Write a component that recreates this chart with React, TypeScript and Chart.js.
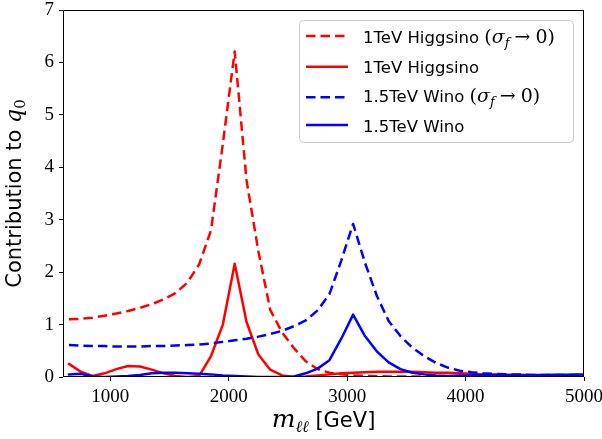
import { useEffect, useRef } from "react";
import { Chart, registerables } from "chart.js";
Chart.register(...registerables);

// m_ll bin centres (GeV)
const masses = [
  650, 750, 850, 950, 1050, 1150, 1250, 1350, 1450, 1550,
  1650, 1750, 1850, 1950, 2050, 2150, 2250, 2350, 2450, 2550,
  2650, 2750, 2850, 2950, 3050, 3150, 3250, 3350, 3450, 3550,
  3650, 3750, 3850, 3950, 4050, 4150, 4250, 4350, 4450, 4550,
  4650, 4750, 4850, 4950, 5050,
];

// 1TeV Higgsino (sigma_f -> 0)
const higgsinoLimit = [
  1.10, 1.11, 1.13, 1.17, 1.21, 1.26, 1.32, 1.39, 1.48, 1.60,
  1.80, 2.15, 2.80, 4.45, 6.21, 3.75, 2.40, 1.28, 0.85, 0.55,
  0.30, 0.15, 0.08, 0.05, 0.03, 0.02, 0.015, 0.01, 0.01, 0.01,
  0.01, 0.01, 0.01, 0.01, 0.01, 0.01, 0.01, 0.01, 0.01, 0.01,
  0.01, 0.01, 0.01, 0.01, 0.01,
];

// 1TeV Higgsino
const higgsino = [
  0.25, 0.10, 0.02, 0.07, 0.15, 0.21, 0.20, 0.14, 0.07, 0.02,
  0.00, 0.02, 0.40, 1.00, 2.16, 1.05, 0.43, 0.14, 0.03, 0.00,
  0.01, 0.03, 0.05, 0.07, 0.08, 0.09, 0.10, 0.10, 0.10, 0.10,
  0.09, 0.08, 0.08, 0.07, 0.06, 0.05, 0.05, 0.04, 0.04, 0.03,
  0.03, 0.03, 0.02, 0.02, 0.02,
];

// 1.5TeV Wino (sigma_f -> 0)
const winoLimit = [
  0.61, 0.60, 0.59, 0.59, 0.58, 0.58, 0.58, 0.59, 0.59, 0.60,
  0.61, 0.62, 0.64, 0.67, 0.70, 0.73, 0.77, 0.82, 0.88, 0.97,
  1.08, 1.27, 1.58, 2.22, 2.92, 2.18, 1.55, 1.07, 0.78, 0.56,
  0.40, 0.27, 0.18, 0.12, 0.09, 0.07, 0.06, 0.05, 0.05, 0.04,
  0.04, 0.04, 0.04, 0.04, 0.04,
];

// 1.5TeV Wino
const wino = [
  0.05, 0.06, 0.01, 0.00, 0.01, 0.02, 0.04, 0.07, 0.08, 0.08,
  0.07, 0.06, 0.05, 0.03, 0.02, 0.01, 0.00, 0.00, 0.00, 0.01,
  0.07, 0.16, 0.32, 0.73, 1.19, 0.78, 0.49, 0.28, 0.15, 0.08,
  0.05, 0.03, 0.02, 0.03, 0.03, 0.04, 0.04, 0.04, 0.04, 0.04,
  0.04, 0.045, 0.045, 0.05, 0.05,
];

const xTicks = [1000, 2000, 3000, 4000, 5000];
const yTicks = [0, 1, 2, 3, 4, 5, 6, 7];

const RED = "#ff0000";
const BLUE = "#0000ff";
const SANS = '"DejaVu Sans"';
const SERIF = '"DejaVu Serif"';
const TICKFONT = '"Liberation Serif"';

type Run = { t: string; f: string; dy?: number; gap?: number };

function runsWidth(ctx: CanvasRenderingContext2D, runs: Run[]) {
  let w = 0;
  for (const r of runs) {
    ctx.font = r.f;
    w += ctx.measureText(r.t).width + (r.gap || 0);
  }
  return w;
}
function drawRuns(ctx: CanvasRenderingContext2D, runs: Run[], x: number, y: number) {
  let cx = x;
  for (const r of runs) {
    ctx.font = r.f;
    ctx.fillText(r.t, cx, y + (r.dy || 0));
    cx += ctx.measureText(r.t).width + (r.gap || 0);
  }
}

const legendItems = [
  { color: RED, dash: true, runs: [
    { t: "1TeV Higgsino ", f: `16.5px ${SANS}` },
    { t: "(", f: `19px ${SERIF}` },
    { t: "σ", f: `italic 19px ${SERIF}` },
    { t: "f", f: `italic 13px ${SERIF}`, dy: 4, gap: 5 },
    { t: "→", f: `19px ${SERIF}`, gap: 5 },
    { t: "0)", f: `19px ${SERIF}` },
  ] },
  { color: RED, dash: false, runs: [{ t: "1TeV Higgsino", f: `16.5px ${SANS}` }] },
  { color: BLUE, dash: true, runs: [
    { t: "1.5TeV Wino ", f: `16.5px ${SANS}` },
    { t: "(", f: `19px ${SERIF}` },
    { t: "σ", f: `italic 19px ${SERIF}` },
    { t: "f", f: `italic 13px ${SERIF}`, dy: 4, gap: 5 },
    { t: "→", f: `19px ${SERIF}`, gap: 5 },
    { t: "0)", f: `19px ${SERIF}` },
  ] },
  { color: BLUE, dash: false, runs: [{ t: "1.5TeV Wino", f: `16.5px ${SANS}` }] },
];
const legendLineY = [36, 66.7, 97.3, 125];
const legendBaseY = [42.7, 72.7, 101.7, 131.7];

const decorPlugin = {
  id: "decor",
  afterDraw(chart: any) {
    const ctx: CanvasRenderingContext2D = chart.ctx;
    const { left, right, top, bottom } = chart.chartArea;
    ctx.save();
    // frame
    ctx.strokeStyle = "#000";
    ctx.lineWidth = 1;
    const L = Math.round(left) + 0.5, T = Math.round(top) + 0.5;
    const R = Math.round(right) - 0.5, B = Math.round(bottom) - 0.5;
    ctx.strokeRect(L, T, R - L, B - T);

    // legend
    ctx.beginPath();
    (ctx as any).roundRect(299.5, 20.5, 274, 122, 4);
    ctx.fillStyle = "rgba(255,255,255,0.8)";
    ctx.fill();
    ctx.strokeStyle = "#cccccc";
    ctx.lineWidth = 1;
    ctx.stroke();
    ctx.textBaseline = "alphabetic";
    ctx.textAlign = "left";
    legendItems.forEach((it, i) => {
      ctx.beginPath();
      ctx.strokeStyle = it.color;
      ctx.lineWidth = 2.5;
      ctx.setLineDash(it.dash ? [9.5, 5] : []);
      ctx.moveTo(306, legendLineY[i]);
      ctx.lineTo(348, legendLineY[i]);
      ctx.stroke();
      ctx.setLineDash([]);
      ctx.fillStyle = "#000";
      drawRuns(ctx, it.runs, 363, legendBaseY[i]);
    });

    // x title
    const xr: Run[] = [
      { t: "m", f: `italic 25px ${SERIF}` },
      { t: "ℓℓ", f: `italic 16px ${SERIF}`, dy: 5 },
      { t: " [GeV]", f: `21px ${SANS}` },
    ];
    const xw = runsWidth(ctx, xr);
    ctx.fillStyle = "#000";
    drawRuns(ctx, xr, (left + right) / 2 - xw / 2, 427);

    // y title
    const yr: Run[] = [
      { t: "Contribution to ", f: `21px ${SANS}` },
      { t: "q", f: `italic 22px ${SERIF}` },
      { t: "0", f: `15px ${SERIF}`, dy: 4 },
    ];
    const yw = runsWidth(ctx, yr);
    ctx.translate(21, (top + bottom) / 2);
    ctx.rotate(-Math.PI / 2);
    drawRuns(ctx, yr, -yw / 2, 0);
    ctx.restore();
  },
};

function mk(vals: number[]) {
  return masses.map((m, i) => ({ x: m, y: vals[i] }));
}

export default function App() {
  const ref = useRef<HTMLCanvasElement>(null);
  useEffect(() => {
    if (!ref.current) return;
    const chart = new Chart(ref.current, {
      type: "line",
      data: {
        datasets: [
          { label: "1TeV Higgsino (σf → 0)", data: mk(higgsinoLimit), borderColor: RED, borderDash: [9.5, 5], order: 3 },
          { label: "1TeV Higgsino", data: mk(higgsino), borderColor: RED, order: 2 },
          { label: "1.5TeV Wino (σf → 0)", data: mk(winoLimit), borderColor: BLUE, borderDash: [9.5, 5], order: 1 },
          { label: "1.5TeV Wino", data: mk(wino), borderColor: BLUE, order: 0 },
        ].map((d) => ({
          ...d,
          borderWidth: 2.5,
          pointRadius: 0,
          tension: 0,
          fill: false,
          borderJoinStyle: "round" as const,
          borderCapStyle: (d.borderDash ? "butt" : "round") as any,
        })),
      },
      options: {
        responsive: false,
        animation: false,
        devicePixelRatio: 1,
        layout: { padding: { left: 0, top: 10, right: 18, bottom: 0 } },
        plugins: { legend: { display: false }, tooltip: { enabled: false } },
        scales: {
          x: {
            type: "linear",
            min: 600,
            max: 5000,
            afterBuildTicks: (axis: any) => {
              axis.ticks = xTicks.map((v) => ({ value: v }));
            },
            afterFit: (axis: any) => {
              axis.height = 62;
              axis.paddingLeft = 0;
              axis.paddingRight = 0;
            },
            grid: { drawOnChartArea: false, drawTicks: true, tickLength: 4, color: "#000", tickWidth: 1 },
            border: { display: false },
            ticks: {
              color: "#000",
              font: { family: TICKFONT, size: 19 },
              padding: 5,
              maxRotation: 0,
              autoSkip: false,
              callback: (v: any) => String(v),
            },
          },
          y: {
            type: "linear",
            min: 0,
            max: 7,
            afterBuildTicks: (axis: any) => {
              axis.ticks = yTicks.map((v) => ({ value: v }));
            },
            afterFit: (axis: any) => {
              axis.width = 63;
              axis.paddingTop = 0;
              axis.paddingBottom = 0;
            },
            grid: { drawOnChartArea: false, drawTicks: true, tickLength: 4, color: "#000", tickWidth: 1 },
            border: { display: false },
            ticks: {
              color: "#000",
              font: { family: TICKFONT, size: 19 },
              padding: 5,
              callback: (v: any) => String(v),
            },
          },
        },
      },
      plugins: [decorPlugin],
    });
    return () => chart.destroy();
  }, []);
  return (
    <div style={{ position: "fixed", left: 0, top: 0, width: 602, height: 439, background: "#fff" }}>
      <canvas ref={ref} width={602} height={439} style={{ display: "block" }} />
    </div>
  );
}
